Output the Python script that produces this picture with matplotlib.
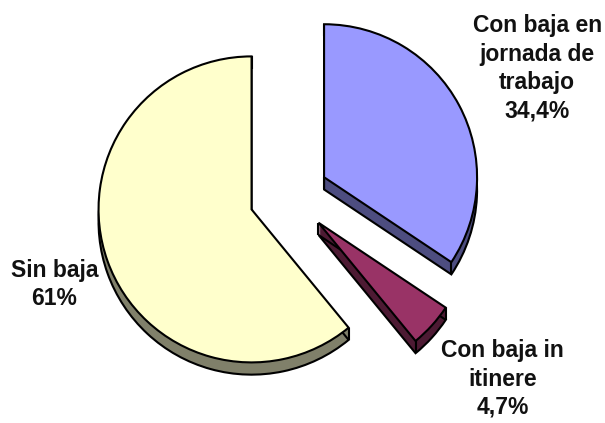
import matplotlib.pyplot as plt
from matplotlib.patches import Wedge
import numpy as np

# Pie data: accidents by type of leave
labels = ["Con baja en\njornada de\ntrabajo\n34,4%", "Con baja in\nitinere\n4,7%", "Sin baja\n61%"]
values = [34.4, 4.7, 61.0]
top_colors = ["#9999FF", "#993366", "#FFFFCC"]
side_colors = ["#4D4D80", "#4D1A33", "#80806A"]
explode = [0.26, 0.26, 0.26]

# label anchor points (axes fraction)
label_pos = [(0.888, 0.838), (0.831, 0.104), (0.09, 0.328)]

DEPTH = 0.08  # height of the 3D rim, in radius units
EDGE = dict(edgecolor="black", linewidth=1.5)

fig = plt.figure(figsize=(6.05, 4.23), dpi=100)
ax = fig.add_axes([0, 0, 1, 1])

wedges, _ = ax.pie(values, explode=explode, startangle=90, counterclock=False,
                   colors=top_colors, normalize=True,
                   wedgeprops=dict(zorder=3, **EDGE))

# extrude every slice downwards to fake the 3D look
for w, side in zip(wedges, side_colors):
    cx, cy = w.center
    for off in np.linspace(0.005, DEPTH, 16)[:-1]:
        ax.add_patch(Wedge((cx, cy - off), w.r, w.theta1, w.theta2,
                           facecolor=side, edgecolor="none", zorder=1))
    ax.add_patch(Wedge((cx, cy - DEPTH), w.r, w.theta1, w.theta2,
                       facecolor=side, zorder=2, **EDGE))
    # vertical edges at the corners
    pts = [(cx, cy)]
    for t in (w.theta1, w.theta2):
        pts.append((cx + w.r * np.cos(np.radians(t)), cy + w.r * np.sin(np.radians(t))))
    for px, py in pts:
        ax.plot([px, px], [py, py - DEPTH], color="black", lw=1.5, zorder=2.5,
                solid_capstyle="butt")

for text, (x, y) in zip(labels, label_pos):
    ax.text(x, y, text, transform=ax.transAxes, ha="center", va="center",
            fontsize=16.5, fontweight="bold", family=["Liberation Sans", "DejaVu Sans"],
            linespacing=1.3, color="#111111")

# pie centre at (289, 195) px, radius 153 px
ax.set_xlim(-289 / 153, (605 - 289) / 153)
ax.set_ylim(-(423 - 196) / 153, 196 / 153)
ax.set_aspect("auto")
ax.axis("off")

fig.savefig("out.png", dpi=100)
